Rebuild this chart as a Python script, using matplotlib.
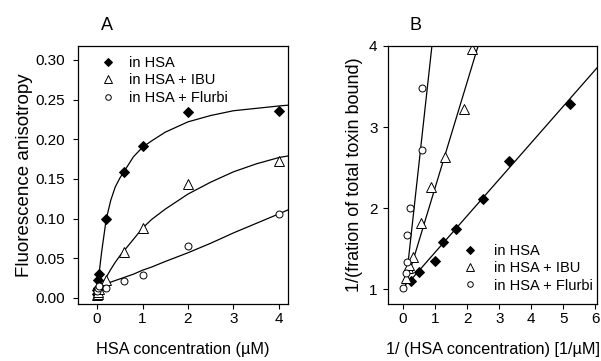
import matplotlib
matplotlib.use("Agg")
import matplotlib.pyplot as plt

plt.rcParams['font.family'] = ['Liberation Sans', 'DejaVu Sans']

# ---- panel A: anisotropy vs HSA concentration ----
a_hsa_x = [0, 0.005, 0.01, 0.03, 0.05, 0.2, 0.6, 1, 2, 4]
a_hsa_y = [0.005, 0.010, 0.013, 0.023, 0.030, 0.099, 0.159, 0.191, 0.234, 0.236]
a_ibu_x = [0, 0.01, 0.03, 0.05, 0.2, 0.6, 1, 2, 4]
a_ibu_y = [0.004, 0.005, 0.008, 0.011, 0.023, 0.058, 0.088, 0.144, 0.173]
a_flu_x = [0, 0.02, 0.05, 0.2, 0.6, 1, 2, 4]
a_flu_y = [0.009, 0.012, 0.015, 0.013, 0.021, 0.029, 0.065, 0.106]

# fitted curves
fit_x = [0, 0.05, 0.1, 0.2, 0.3, 0.4, 0.5, 0.6, 0.8, 1.0, 1.2, 1.5, 2.0, 2.5, 3.0, 3.5, 4.0, 4.2]
fit_hsa = [0.006, 0.034, 0.058, 0.099, 0.123, 0.140, 0.151, 0.160, 0.178, 0.190, 0.198, 0.209, 0.222,
           0.230, 0.236, 0.239, 0.242, 0.243]
fit_ibu = [0.004, 0.009, 0.015, 0.026, 0.036, 0.045, 0.053, 0.060, 0.074, 0.088, 0.099, 0.112, 0.131,
           0.146, 0.159, 0.169, 0.177, 0.179]
fit_flu = [0.006, 0.011, 0.014, 0.017, 0.020, 0.022, 0.024, 0.026, 0.030, 0.035, 0.039, 0.046, 0.057,
           0.069, 0.082, 0.094, 0.106, 0.111]

# ---- panel B: double reciprocal ----
b_hsa_x = [0.25, 0.5, 1.0, 1.25, 1.65, 2.5, 3.32, 5.2]
b_hsa_y = [1.10, 1.21, 1.34, 1.58, 1.74, 2.11, 2.58, 3.28]
b_ibu_x = [0.08, 0.14, 0.2, 0.3, 0.55, 0.87, 1.30, 1.90, 2.14]
b_ibu_y = [1.13, 1.26, 1.30, 1.39, 1.82, 2.26, 2.63, 3.22, 3.96]
b_flu_x = [0, 0.08, 0.12, 0.125, 0.23, 0.59, 0.59]
b_flu_y = [1.01, 1.20, 1.33, 1.67, 2.00, 2.72, 3.48]

line_hsa_x, line_hsa_y = [0.15, 6.05], [1.07, 3.73]
line_ibu_x, line_ibu_y = [0.08, 2.34], [1.05, 4.0]
line_flu_x, line_flu_y = [0.08, 0.90], [1.05, 4.0]

labels = ['in HSA', 'in HSA + IBU', 'in HSA + Flurbi']

fig = plt.figure(figsize=(6.01, 3.61), dpi=100)
axA = fig.add_axes([78 / 601, 1 - 304 / 361, 210 / 601, 258 / 361])
axB = fig.add_axes([388 / 601, 1 - 304 / 361, 209 / 601, 258 / 361])

mk = dict(linestyle='none', color='black', markeredgewidth=0.7)

for ax, lines in ((axA, [(fit_x, fit_hsa), (fit_x, fit_ibu), (fit_x, fit_flu)]),
                  (axB, [(line_hsa_x, line_hsa_y), (line_ibu_x, line_ibu_y),
                         (line_flu_x, line_flu_y)])):
    for lx, ly in lines:
        ax.plot(lx, ly, color='black', lw=0.9)

axA.plot(a_hsa_x, a_hsa_y, marker='D', ms=5.2, label=labels[0], **mk)
axA.plot(a_ibu_x, a_ibu_y, marker='^', ms=6.5, mfc='white', label=labels[1], **mk)
axA.plot(a_flu_x, a_flu_y, marker='o', ms=5, mfc='white', label=labels[2], **mk)

axB.plot(b_hsa_x, b_hsa_y, marker='D', ms=5.2, label=labels[0], **mk)
axB.plot(b_ibu_x, b_ibu_y, marker='^', ms=6.5, mfc='white', label=labels[1], **mk)
axB.plot(b_flu_x, b_flu_y, marker='o', ms=5, mfc='white', label=labels[2], **mk)

axA.set_xlim(-0.42, 4.2)
axA.set_ylim(-0.0076, 0.3176)
axA.set_xticks([0, 1, 2, 3, 4])
axA.set_yticks([0, 0.05, 0.10, 0.15, 0.20, 0.25, 0.30])
axA.set_yticklabels(['0.00', '0.05', '0.10', '0.15', '0.20', '0.25', '0.30'])
axA.set_xlabel('HSA concentration (µM)', fontsize=11.7, labelpad=11)
axA.set_ylabel('Fluorescence anisotropy', fontsize=13.5, labelpad=2)

axB.set_xlim(-0.47, 6.05)
axB.set_ylim(0.815, 4.0)
axB.set_xticks([0, 1, 2, 3, 4, 5, 6])
axB.set_yticks([1, 2, 3, 4])
axB.set_xlabel('1/ (HSA concentration) [1/µM]', fontsize=11.7, labelpad=11)
axB.set_ylabel('1/(fration of total toxin bound)', fontsize=13, labelpad=4.5)

fig.text(107 / 601, 1 - 26 / 361, 'A', fontsize=13, ha='center', va='center')
fig.text(415 / 601, 1 - 26 / 361, 'B', fontsize=13, ha='center', va='center')

for ax in (axA, axB):
    ax.tick_params(direction='out', length=3.5, width=0.8, labelsize=11, pad=2.5,
                   top=False, right=False)
    for s in ax.spines.values():
        s.set_linewidth(0.9)
axA.tick_params(axis='y', pad=5.5)
axB.tick_params(axis='y', pad=4)

legA = axA.legend(loc='upper left', bbox_to_anchor=(0.06, 1.0), frameon=False, fontsize=10.5,
                  markerscale=0.8, handlelength=1.0, handletextpad=0.9, labelspacing=0.22,
                  borderaxespad=0.3)
legB = axB.legend(loc='lower left', bbox_to_anchor=(0.31, 0.005), frameon=False, fontsize=10.5,
                  markerscale=0.8, handlelength=1.0, handletextpad=1.1, labelspacing=0.22,
                  borderaxespad=0.3)

fig.savefig('out.png', dpi=100)
